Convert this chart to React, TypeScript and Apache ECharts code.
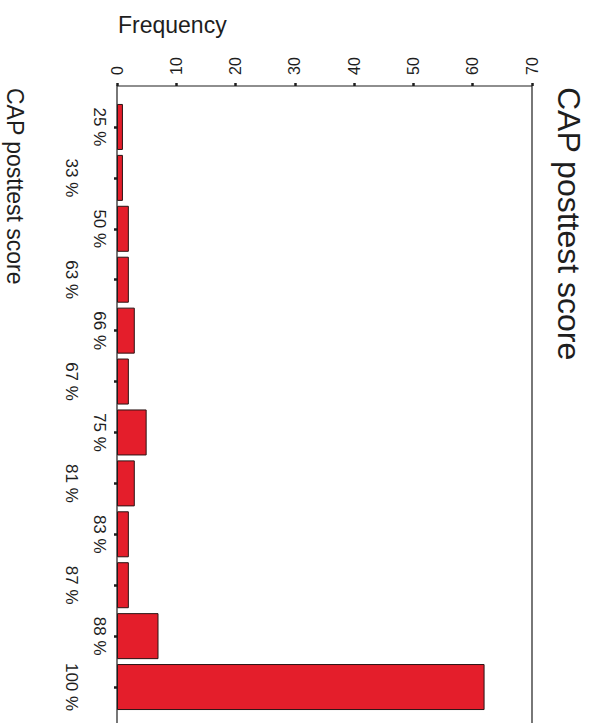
import React, { useEffect, useRef } from "react";
import * as echarts from "echarts";

const categories = ["25 %", "33 %", "50 %", "63 %", "66 %", "67 %", "75 %", "81 %", "83 %", "87 %", "88 %", "100 %"];
const frequencies = [1, 1, 2, 2, 3, 2, 5, 3, 2, 2, 7, 62];
const valueMin = 0;
const valueMax = 70;
const valueInterval = 10;
const chartTitle = "CAP posttest score";
const valueAxisName = "Frequency";
const categoryAxisName = "CAP posttest score";

const FONT = "'Liberation Sans', Arial, Helvetica, sans-serif";
const INK = "#1e1e1e";

export default function App() {
  const ref = useRef<HTMLDivElement>(null);
  useEffect(() => {
    if (!ref.current) return;
    const chart = echarts.init(ref.current, undefined, { renderer: "svg" });
    const tickStyle = { show: true, length: 3, lineStyle: { color: INK, width: 2.5 } };
    chart.setOption({
      animation: false,
      backgroundColor: "#ffffff",
      textStyle: { fontFamily: FONT },
      grid: { left: 117, right: 70, top: 101.5, bottom: 10.5, containLabel: false },
      xAxis: {
        type: "value",
        position: "top",
        offset: 15.5,
        min: valueMin,
        max: valueMax,
        interval: valueInterval,
        axisLine: { show: false },
        axisTick: tickStyle,
        splitLine: { show: false },
        axisLabel: { rotate: -90, margin: 11, fontSize: 16, color: INK, fontFamily: FONT },
      },
      yAxis: [
        {
          type: "category",
          data: categories,
          inverse: true,
          position: "left",
          axisLine: { show: false },
          axisTick: { ...tickStyle, alignWithLabel: true, interval: 0 },
          axisLabel: {
            rotate: -90,
            margin: 9,
            fontSize: 17,
            color: INK,
            fontFamily: FONT,
            interval: (i: number) => i % 2 === 0,
          },
        },
        {
          type: "category",
          data: categories,
          inverse: true,
          position: "left",
          axisLine: { show: false },
          axisTick: { show: false },
          axisLabel: {
            rotate: -90,
            margin: 37,
            fontSize: 17,
            color: INK,
            fontFamily: FONT,
            interval: (i: number) => i % 2 === 1,
          },
        },
      ],
      series: [
        {
          type: "bar",
          yAxisIndex: 0,
          data: frequencies,
          barWidth: 46,
          itemStyle: { color: "#e41e2b", borderColor: "#2a1414", borderWidth: 1 },
        },
      ],
      graphic: [
        {
          type: "rect",
          shape: { x: 117, y: 86, width: 415, height: 720 },
          style: { fill: "none", stroke: INK, lineWidth: 1.2 },
          z: 10,
        },
        {
          type: "text",
          x: 118,
          y: 25,
          style: { text: valueAxisName, font: `23px ${FONT}`, fill: INK, textAlign: "left", textVerticalAlign: "middle" },
        },
        {
          type: "text",
          x: 569,
          y: 87,
          rotation: -Math.PI / 2,
          style: { text: chartTitle, font: `32px ${FONT}`, fill: INK, textAlign: "left", textVerticalAlign: "middle" },
        },
        {
          type: "text",
          x: 15,
          y: 88,
          rotation: -Math.PI / 2,
          style: { text: categoryAxisName, font: `23px ${FONT}`, fill: INK, textAlign: "left", textVerticalAlign: "middle" },
        },
      ],
    });
    return () => chart.dispose();
  }, []);
  return <div ref={ref} style={{ position: "fixed", left: 0, top: 0, width: 602, height: 723 }} />;
}
